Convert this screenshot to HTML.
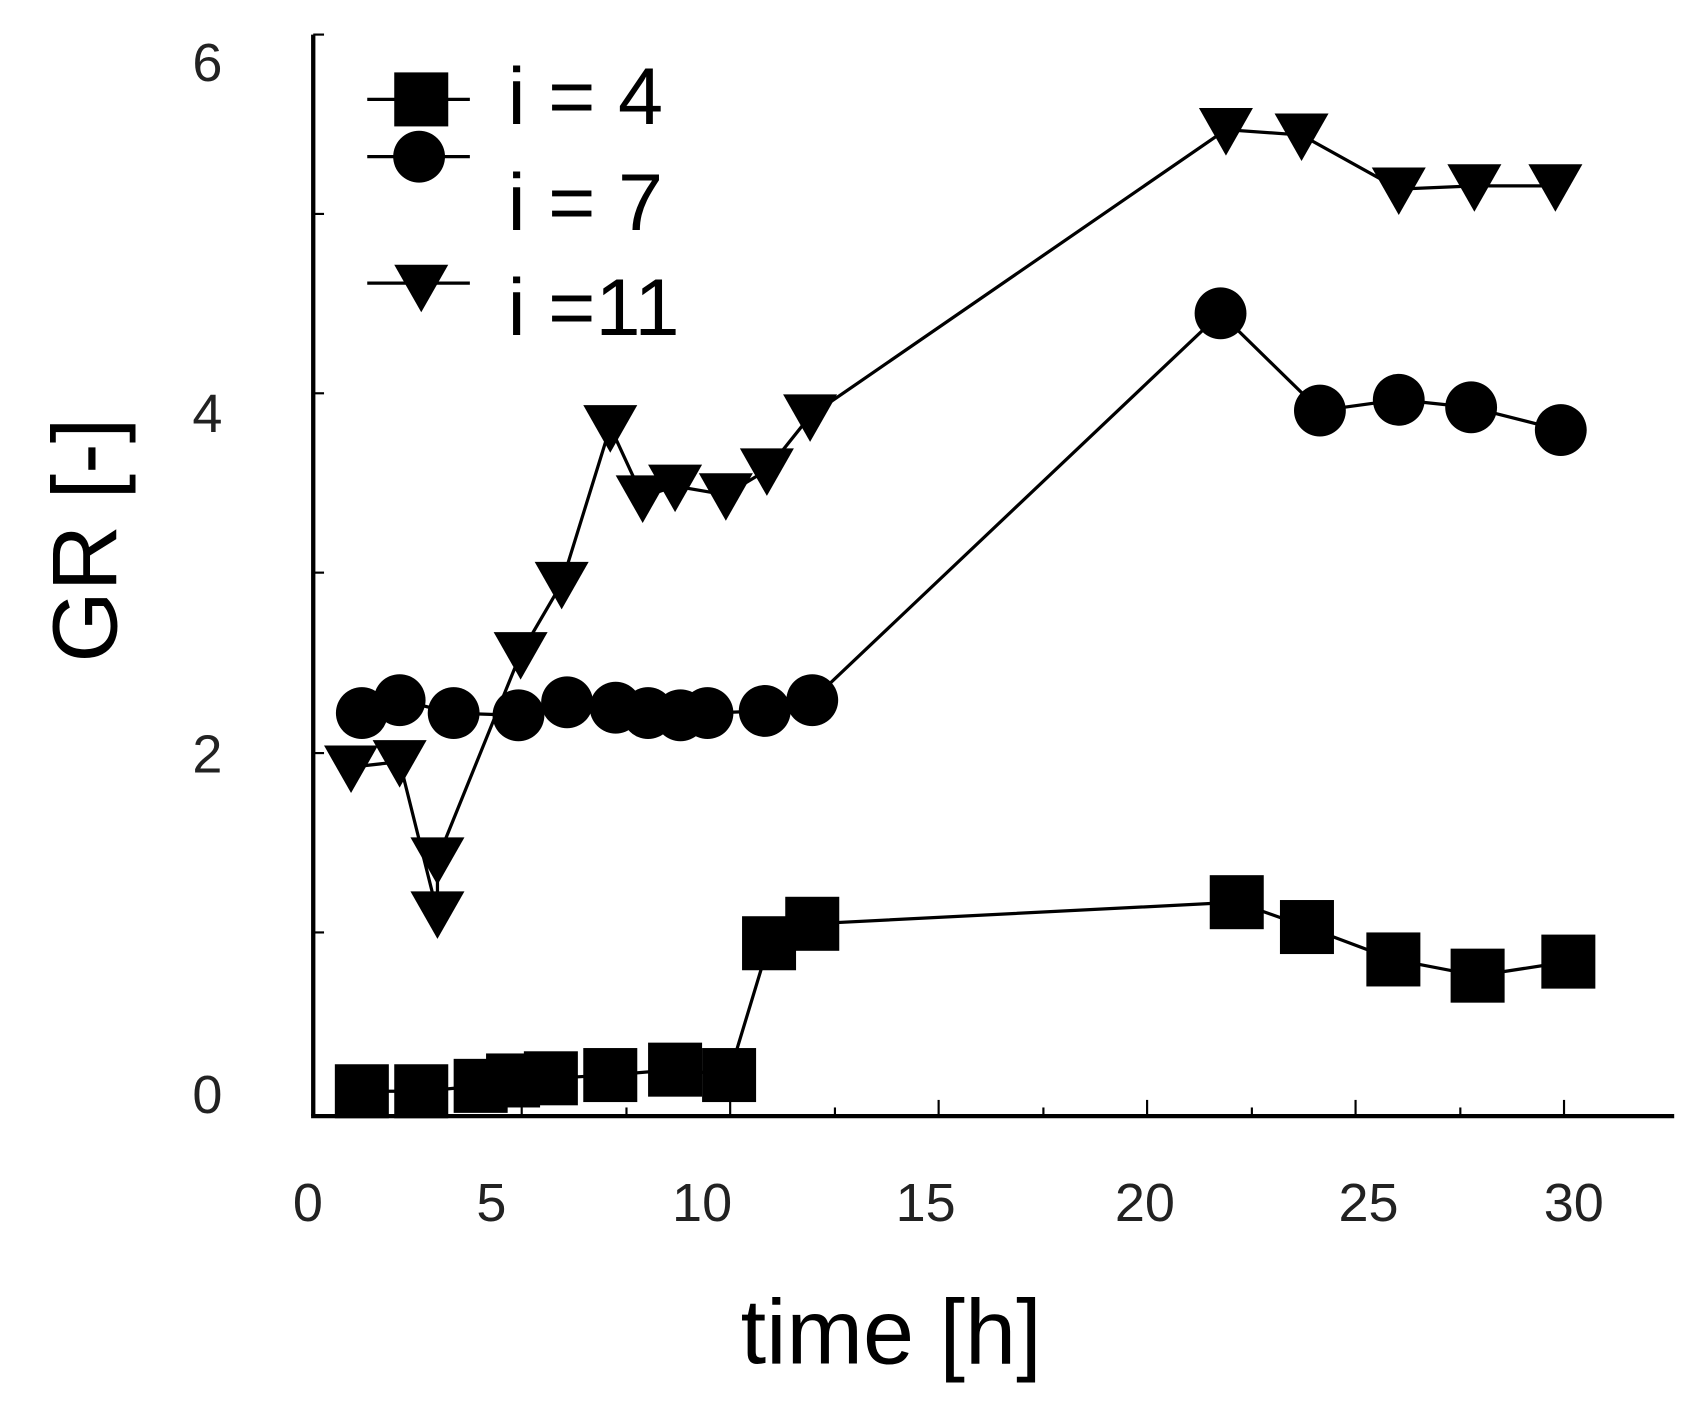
<!DOCTYPE html>
<html><head><style>html,body{margin:0;padding:0;background:#fff;}svg{display:block}</style></head>
<body>
<svg width="1685" height="1410" viewBox="0 0 1560 1305" preserveAspectRatio="none" xmlns="http://www.w3.org/2000/svg" font-family="Liberation Sans, sans-serif">
<defs>
<rect id="sq" x="-25" y="-25" width="50" height="50" fill="#000"/>
<circle id="ci" r="24" fill="#000"/>
<polygon id="tr" points="-25,-20 25,-20 0,24" fill="#000"/>
</defs>
<g stroke="#000" stroke-width="4" fill="none">
<line x1="290" y1="32" x2="290" y2="1033"/>
<line x1="288" y1="1033" x2="1550" y2="1033"/>
</g>
<g stroke="#000" stroke-width="2">
<line x1="290" y1="863" x2="300" y2="863"/><line x1="290" y1="697" x2="300" y2="697"/>
<line x1="290" y1="530" x2="300" y2="530"/><line x1="290" y1="364" x2="300" y2="364"/>
<line x1="290" y1="198" x2="300" y2="198"/><line x1="290" y1="32" x2="300" y2="32"/>
<line x1="483" y1="1033" x2="483" y2="1018"/><line x1="676" y1="1033" x2="676" y2="1018"/>
<line x1="869" y1="1033" x2="869" y2="1018"/><line x1="1062" y1="1033" x2="1062" y2="1018"/>
<line x1="1255" y1="1033" x2="1255" y2="1018"/><line x1="1448" y1="1033" x2="1448" y2="1018"/>
<line x1="580" y1="1033" x2="580" y2="1025"/><line x1="773" y1="1033" x2="773" y2="1025"/>
<line x1="966" y1="1033" x2="966" y2="1025"/><line x1="1159" y1="1033" x2="1159" y2="1025"/>
<line x1="1352" y1="1033" x2="1352" y2="1025"/>
</g>
<g font-size="50" fill="#222" text-anchor="middle">
<text x="285" y="1130">0</text><text x="455" y="1130">5</text><text x="650" y="1130">10</text>
<text x="857" y="1130">15</text><text x="1060" y="1130">20</text><text x="1267" y="1130">25</text><text x="1457" y="1130">30</text>
<text x="192" y="1030">0</text><text x="192" y="715">2</text><text x="192" y="400">4</text><text x="192" y="75">6</text>
</g>
<text x="825" y="1262" font-size="85" text-anchor="middle">time [h]</text>
<text transform="translate(108,500) rotate(-90)" font-size="85" text-anchor="middle">GR [-]</text>
<g stroke="#000" stroke-width="3" fill="none">
<polyline points="335,1010 390,1010 445,1005 475,1000 510,998 565,995 625,990 675,995 712,873 752,855 1145,835 1210,858 1290,888 1368,903 1452,890"/>
<polyline points="335,660 370,648 420,660 480,662 525,650 570,655 600,660 630,662 655,660 708,658 752,648 1130,290 1222,380 1295,370 1362,377 1445,398"/>
<polyline points="325,710 370,705 405,845 405,795 482,605 520,540 565,395 595,460 625,450 672,458 710,435 750,385 1135,120 1205,125 1295,175 1365,172 1440,172"/>
<line x1="340" y1="92" x2="435" y2="92"/><line x1="340" y1="145" x2="435" y2="145"/><line x1="340" y1="262" x2="435" y2="262"/>
</g>
<g>
<use href="#sq" x="335" y="1010"/><use href="#sq" x="390" y="1010"/><use href="#sq" x="445" y="1005"/><use href="#sq" x="475" y="1000"/>
<use href="#sq" x="510" y="998"/><use href="#sq" x="565" y="995"/><use href="#sq" x="625" y="990"/><use href="#sq" x="675" y="995"/>
<use href="#sq" x="712" y="873"/><use href="#sq" x="752" y="855"/><use href="#sq" x="1145" y="835"/><use href="#sq" x="1210" y="858"/>
<use href="#sq" x="1290" y="888"/><use href="#sq" x="1368" y="903"/><use href="#sq" x="1452" y="890"/>
<use href="#ci" x="335" y="660"/><use href="#ci" x="370" y="648"/><use href="#ci" x="420" y="660"/><use href="#ci" x="480" y="662"/>
<use href="#ci" x="525" y="650"/><use href="#ci" x="570" y="655"/><use href="#ci" x="600" y="660"/><use href="#ci" x="630" y="662"/>
<use href="#ci" x="655" y="660"/><use href="#ci" x="708" y="658"/><use href="#ci" x="752" y="648"/><use href="#ci" x="1130" y="290"/>
<use href="#ci" x="1222" y="380"/><use href="#ci" x="1295" y="370"/><use href="#ci" x="1362" y="377"/><use href="#ci" x="1445" y="398"/>
<use href="#tr" x="325" y="710"/><use href="#tr" x="370" y="705"/><use href="#tr" x="405" y="845"/><use href="#tr" x="405" y="795"/>
<use href="#tr" x="482" y="605"/><use href="#tr" x="520" y="540"/><use href="#tr" x="565" y="395"/><use href="#tr" x="595" y="460"/>
<use href="#tr" x="625" y="450"/><use href="#tr" x="672" y="458"/><use href="#tr" x="710" y="435"/><use href="#tr" x="750" y="385"/>
<use href="#tr" x="1135" y="120"/><use href="#tr" x="1205" y="125"/><use href="#tr" x="1295" y="175"/><use href="#tr" x="1365" y="172"/><use href="#tr" x="1440" y="172"/>
<use href="#sq" x="390" y="92"/><use href="#ci" x="388" y="145"/><use href="#tr" x="390" y="265"/>
</g>
<g font-size="75" fill="#000">
<text x="470" y="115">i = 4</text><text x="470" y="213">i = 7</text><text x="470" y="310">i =11</text>
</g>
</svg>
</body></html>
